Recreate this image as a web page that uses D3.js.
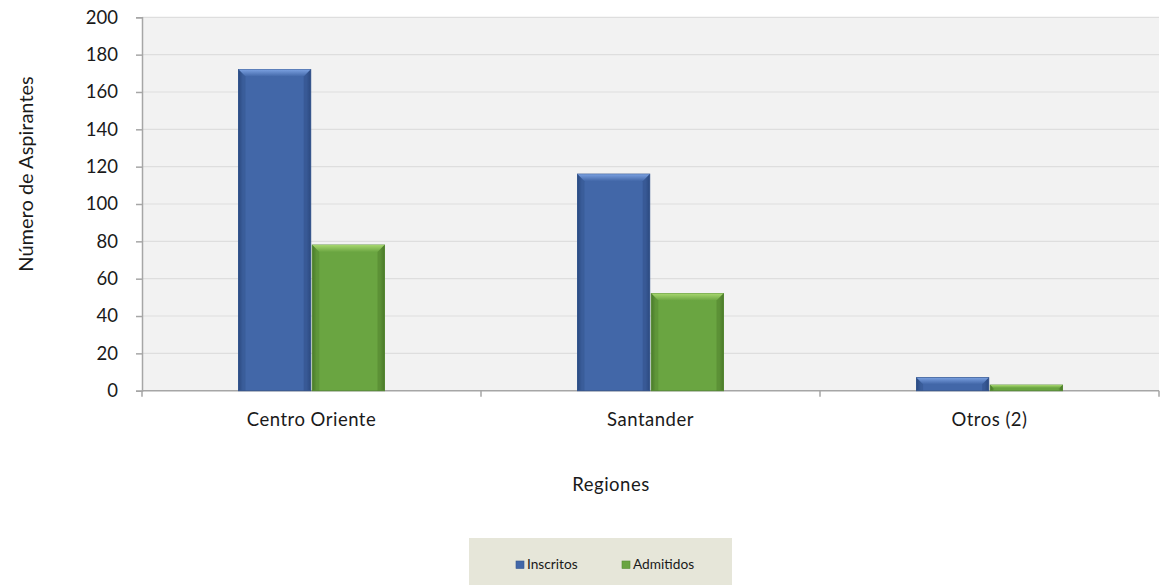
<!DOCTYPE html>
<html>
<head>
<meta charset="utf-8">
<script src="https://cdn.jsdelivr.net/npm/d3@7"></script>
<style>
  html, body { margin: 0; padding: 0; background: #ffffff; }
  svg { display: block; }
  text { font-family: Lato, "Open Sans", sans-serif; fill: #1a1a1a; }
</style>
</head>
<body>
<svg id="chart" width="1161" height="585"></svg>
<script>
// Aspirantes por región
const regions = ["Centro Oriente", "Santander", "Otros (2)"];
const seriesNames = ["Inscritos", "Admitidos"];
const inscritos = [172, 116, 7];
const admitidos = [78, 52, 3];
const yTicks = [0, 20, 40, 60, 80, 100, 120, 140, 160, 180, 200];

const palette = {
  Inscritos: { body: "#4267a8", light: "#7aa0e0", dark: "#2c4a80", edge: "#36578f" },
  Admitidos: { body: "#6aa541", light: "#a6d66e", dark: "#4b7a2b", edge: "#578c35" }
};

const svg = d3.select("#chart");
const plot = { left: 142, right: 1159, top: 17.3, bottom: 390.7 };

const x0 = d3.scaleBand().domain(regions).range([plot.left, plot.right]).paddingInner(0).paddingOuter(0);
const groupWidth = 146;
const x1 = d3.scaleBand().domain(seriesNames).range([0, groupWidth]).padding(0);
const y = d3.scaleLinear().domain([0, 200]).range([plot.bottom, plot.top]);

// plot background
svg.append("rect")
  .attr("x", plot.left).attr("y", plot.top)
  .attr("width", plot.right - plot.left).attr("height", plot.bottom - plot.top)
  .attr("fill", "#f2f2f2");

// horizontal gridlines
svg.append("g")
  .selectAll("line")
  .data(yTicks.filter(d => d > 0))
  .join("line")
  .attr("x1", plot.left).attr("x2", plot.right)
  .attr("y1", d => y(d)).attr("y2", d => y(d))
  .attr("stroke", "#dedede").attr("stroke-width", 1.2);

// y axis
const yAxis = d3.axisLeft(y).tickValues(yTicks).tickSize(6).tickPadding(18);
const gy = svg.append("g").attr("transform", `translate(${plot.left},0)`).call(yAxis);
gy.select(".domain").attr("stroke", "#a6a6a6").attr("stroke-width", 1.5);
gy.selectAll(".tick line").attr("stroke", "#a6a6a6").attr("stroke-width", 1.5);
gy.selectAll(".tick text").attr("font-size", 18.5).attr("font-family", "Lato, sans-serif").attr("fill", "#1a1a1a");

// x axis with ticks at category boundaries
const gx = svg.append("g").attr("transform", `translate(0,${plot.bottom})`);
gx.append("line")
  .attr("x1", plot.left).attr("x2", plot.right)
  .attr("stroke", "#a6a6a6").attr("stroke-width", 1.5);
const boundaries = regions.map(r => x0(r)).concat([x0(regions[regions.length - 1]) + x0.bandwidth()]);
gx.selectAll("line.bt")
  .data(boundaries)
  .join("line").attr("class", "bt")
  .attr("x1", d => d).attr("x2", d => d)
  .attr("y1", 0).attr("y2", 6)
  .attr("stroke", "#a6a6a6").attr("stroke-width", 1.5);
gx.selectAll("text")
  .data(regions)
  .join("text")
  .attr("x", d => x0(d) + x0.bandwidth() / 2)
  .attr("y", 35)
  .attr("text-anchor", "middle")
  .attr("font-size", 18.5)
  .attr("letter-spacing", 0.5)
  .text(d => d);

// gradients for bevelled bars
const defs = svg.append("defs");
seriesNames.forEach(s => {
  const c = palette[s];
  const g = defs.append("linearGradient").attr("id", "body-" + s).attr("x1", 0).attr("x2", 1).attr("y1", 0).attr("y2", 0);
  g.append("stop").attr("offset", "0%").attr("stop-color", c.dark);
  g.append("stop").attr("offset", "6%").attr("stop-color", c.body);
  g.append("stop").attr("offset", "94%").attr("stop-color", c.body);
  g.append("stop").attr("offset", "100%").attr("stop-color", c.dark);
  const t = defs.append("linearGradient").attr("id", "top-" + s).attr("x1", 0).attr("x2", 0).attr("y1", 0).attr("y2", 1);
  t.append("stop").attr("offset", "0%").attr("stop-color", c.light);
  t.append("stop").attr("offset", "100%").attr("stop-color", c.body);
});

const rows = regions.map((r, i) => ({ region: r, values: [
  { series: "Inscritos", value: inscritos[i] },
  { series: "Admitidos", value: admitidos[i] }
]}));

const groups = svg.append("g").selectAll("g")
  .data(rows)
  .join("g")
  .attr("transform", d => `translate(${x0(d.region) + (x0.bandwidth() - groupWidth) / 2},0)`);

groups.each(function(d) {
  const g = d3.select(this);
  d.values.forEach(v => {
    const bx = x1(v.series) + (v.series === "Admitidos" ? 0.8 : 0);
    const bw = x1.bandwidth() - 0.8;
    const by = y(v.value);
    const bh = y(0) - by;
    const b = Math.min(7, bh / 2);
    const c = palette[v.series];
    g.append("rect")
      .attr("x", bx).attr("y", by).attr("width", bw).attr("height", bh)
      .attr("fill", `url(#body-${v.series})`)
      .attr("stroke", c.edge).attr("stroke-width", 1);
    // top bevel
    g.append("path")
      .attr("d", `M${bx},${by}L${bx + bw},${by}L${bx + bw - b},${by + b}L${bx + b},${by + b}Z`)
      .attr("fill", `url(#top-${v.series})`);
    // side bevels
    g.append("path")
      .attr("d", `M${bx},${by}L${bx + b},${by + b}L${bx + b},${by + bh}L${bx},${by + bh}Z`)
      .attr("fill", c.dark).attr("opacity", 0.35);
    g.append("path")
      .attr("d", `M${bx + bw},${by}L${bx + bw - b},${by + b}L${bx + bw - b},${by + bh}L${bx + bw},${by + bh}Z`)
      .attr("fill", c.dark).attr("opacity", 0.45);
  });
});

// axis titles
svg.append("text")
  .attr("transform", `translate(33,174) rotate(-90)`)
  .attr("text-anchor", "middle")
  .attr("font-size", 20)
  .attr("font-family", "'Open Sans', sans-serif")
  .text("Número de Aspirantes");

svg.append("text")
  .attr("x", 611).attr("y", 491)
  .attr("text-anchor", "middle")
  .attr("font-size", 18.5)
  .attr("letter-spacing", 0.5)
  .text("Regiones");

// legend
const legend = svg.append("g");
legend.append("rect")
  .attr("x", 469).attr("y", 538).attr("width", 263).attr("height", 47)
  .attr("fill", "#e6e6d9");
const legendItems = [
  { name: seriesNames[0], x: 516 },
  { name: seriesNames[1], x: 622 }
];
legendItems.forEach(it => {
  legend.append("rect")
    .attr("x", it.x).attr("y", 561).attr("width", 8).attr("height", 7.5)
    .attr("fill", palette[it.name].body).attr("stroke", palette[it.name].edge).attr("stroke-width", 0.6);
  legend.append("text")
    .attr("x", it.x + 11).attr("y", 568.5)
    .attr("font-size", 13.7)
    .text(it.name);
});
</script>
</body>
</html>
